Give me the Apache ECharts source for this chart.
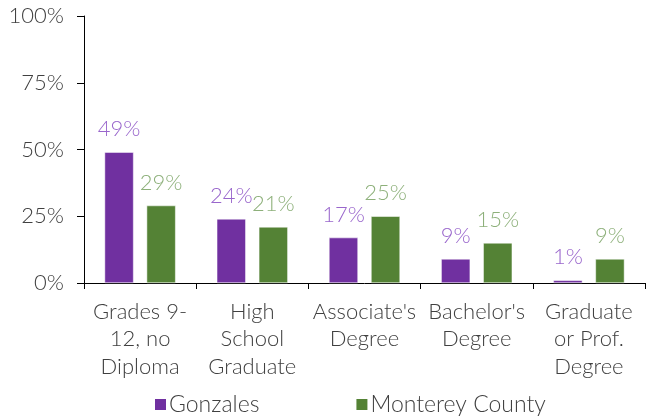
<!DOCTYPE html>
<html><head><meta charset="utf-8">
<script src="https://cdn.jsdelivr.net/npm/echarts@6/dist/echarts.min.js"></script>
<style>html,body{margin:0;padding:0;background:#fff}#c{width:646px;height:417px}</style>
</head><body><div id="c"></div>
<script>
const categories = ["Grades 9-\n12, no\nDiploma", "High\nSchool\nGraduate", "Associate's\nDegree", "Bachelor's\nDegree", "Graduate\nor Prof.\nDegree"];
const gonzales = [49, 24, 17, 9, 1];
const monterey = [29, 21, 25, 15, 9];
const yTicks = [0, 25, 50, 75, 100];

const FONT = 'Lato';
const chart = echarts.init(document.getElementById('c'), null, {renderer: 'canvas'});
chart.setOption({
  animation: false,
  textStyle: {fontFamily: FONT},
  grid: {left: 84, right: 1, top: 16, bottom: 134, containLabel: false},
  legend: {
    bottom: -4, left: 148, itemGap: 95, itemWidth: 13, itemHeight: 13,
    icon: 'rect',
    textStyle: {fontSize: 23, color: '#404040', fontFamily: FONT, fontWeight: 300, padding: [0,0,0,-3]},
    data: ['Gonzales', 'Monterey County']
  },
  xAxis: {
    type: 'category', data: categories,
    axisLine: {lineStyle: {color: '#000', width: 1}},
    axisTick: {show: true, length: 6, alignWithLabel: false, lineStyle: {color: '#000'}},
    axisLabel: {fontSize: 22, color: '#404040', fontWeight: 300, lineHeight: 27.5, margin: 15, interval: 0}
  },
  yAxis: {
    type: 'value', min: 0, max: 100, interval: 25,
    axisLine: {show: true, lineStyle: {color: '#000', width: 1}},
    axisTick: {show: true, length: 7, lineStyle: {color: '#000'}},
    splitLine: {show: false},
    axisLabel: {fontSize: 22, color: '#404040', fontWeight: 300, margin: 20,
      formatter: v => yTicks.includes(v) ? v + '%' : ''}
  },
  series: [
    {name: 'Gonzales', type: 'bar', data: gonzales, barWidth: 29, barGap: '45%',
     itemStyle: {color: '#7030A0', borderColor: '#ffffff', borderWidth: 0.5},
     label: {show: true, position: 'top', distance: 12, formatter: '{c}%', fontSize: 22, color: '#9966CC', fontWeight: 300}},
    {name: 'Monterey County', type: 'bar', data: monterey, barWidth: 29,
     itemStyle: {color: '#548235', borderColor: '#ffffff', borderWidth: 0.5},
     label: {show: true, position: 'top', distance: 12, formatter: '{c}%', fontSize: 22, color: '#8DB07A', fontWeight: 300}}
  ]
});
</script></body></html>
